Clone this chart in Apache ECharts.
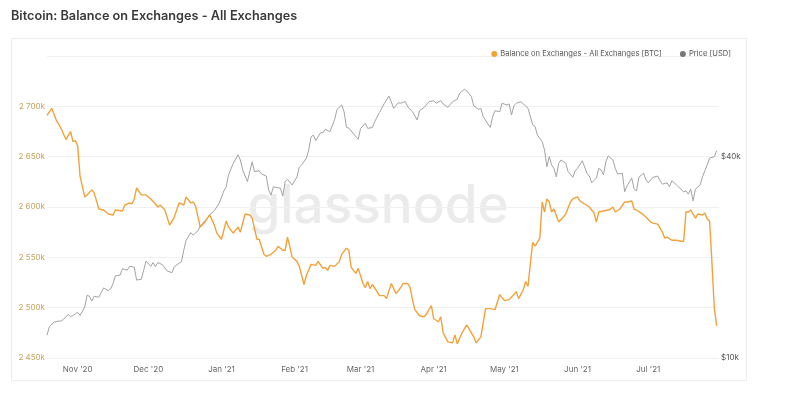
<!DOCTYPE html>
<html><head><meta charset="utf-8">
<script src="https://cdn.jsdelivr.net/npm/echarts@6/dist/echarts.min.js"></script>
<style>html,body{margin:0;padding:0;background:#fff}#c{width:795px;height:394px}</style>
</head><body><div id="c"></div>
<script>
const START = Date.UTC(2020, 9, 19);
const END = Date.UTC(2021, 6, 31);
const DAY = 86400000;
const monthNames = ['Jan','Feb','Mar','Apr','May','Jun','Jul','Aug','Sep','Oct','Nov','Dec'];

// days since 2020-10-19, balance in thousand BTC
const balanceDays = [0,2,4,6,8,9,10,11,12,13,14,16,17,19,20,22,24,26,28,29,32,33,35,36,37,38,40,42,44,46,47,48,50,52,54,56,58,59,61,62,63,65,67,68,69,71,72,74,76,77,79,81,82,84,86,87,89,90,92,93,95,96,97,98,100,101,102,104,106,107,109,110,112,114,115,117,118,119,120,122,124,125,127,128,129,131,132,134,135,136,137,138,140,141,143,144,146,148,150,151,153,154,155,156,158,160,161,163,164,166,167,168,170,172,173,174,176,178,179,181,182,184,186,188,190,192,194,196,198,199,200,202,203,204,205,206,207,209,210,211,212,213,214,215,217,219,220,222,223,225,226,228,230,232,233,234,236,238,239,240,241,243,245,246,248,249,250,252,254,256,257,259,261,262,263,265,267,269,270,271,272,273,275,276,278,279,280,281,282,283,284];
const balanceValues = [2691,2698,2686,2678,2667,2671,2675,2665,2666,2661,2631,2610,2612,2617,2614,2598,2597,2593,2592,2597,2596,2602,2604,2603,2608,2619,2612,2612,2608,2603,2600,2602,2597,2582,2590,2604,2602,2610,2604,2605,2601,2580,2585,2589,2592,2582,2574,2568,2586,2580,2574,2580,2575,2593,2592,2589,2568,2568,2553,2551,2553,2555,2557,2561,2557,2557,2570,2550,2546,2541,2523,2532,2543,2542,2546,2539,2540,2537,2542,2541,2546,2553,2559,2557,2540,2534,2539,2524,2520,2526,2519,2523,2516,2512,2512,2509,2524,2514,2520,2524,2524,2520,2508,2498,2492,2491,2494,2502,2489,2486,2491,2475,2466,2465,2473,2464,2475,2483,2479,2471,2465,2471,2499,2499,2498,2513,2507,2508,2513,2516,2509,2518,2526,2521,2544,2565,2561,2569,2605,2595,2608,2605,2595,2598,2585,2590,2593,2605,2608,2610,2606,2603,2600,2594,2585,2595,2596,2597,2598,2600,2595,2598,2605,2605,2606,2598,2597,2594,2590,2585,2584,2583,2575,2569,2570,2567,2567,2566,2566,2595,2595,2597,2589,2593,2592,2594,2588,2586,2545,2500,2482];

// days since 2020-10-19, price in thousand USD
const priceDays = [0,1,3,5,6,7,9,10,11,13,14,16,17,18,19,20,22,24,26,27,28,29,31,32,34,35,37,38,40,41,42,44,45,46,47,49,51,53,54,56,57,58,59,61,62,64,65,68,69,71,73,75,76,77,79,81,82,83,85,87,88,90,91,93,94,95,96,97,99,100,101,102,104,106,107,108,110,111,112,113,114,116,117,118,120,122,123,125,126,127,128,130,131,132,133,134,135,136,138,139,141,143,145,146,147,149,150,152,153,155,157,158,160,162,164,165,167,168,170,172,174,175,177,178,180,181,183,184,185,187,188,189,190,192,193,195,196,197,198,199,201,203,204,206,207,208,210,211,212,213,214,215,216,217,218,220,221,223,224,225,227,229,230,231,233,234,235,236,237,238,240,241,242,244,245,246,248,249,250,251,253,254,255,257,259,260,261,263,264,265,267,268,270,271,272,273,274,275,277,278,279,280,281,283,284];
const priceValues = [11.7,12.4,12.8,12.9,12.9,13.05,13.5,13.3,13.4,13.7,13.4,14.2,15.4,15.3,14.8,15.3,15.2,16.2,15.9,16.1,16.7,17.6,17.7,18.5,18.3,18.8,18.7,17.1,17.2,18.3,19.5,18.8,19.3,18.75,19.3,19.0,18.2,18.0,18.75,19.2,19.4,21.0,22.5,23.7,23.3,24.0,24.8,26.2,26.8,27.6,29.0,31.6,32.5,35.3,38.2,40.5,39.1,36.5,33.7,38.6,36.1,36.3,35.5,35.0,31.8,30.7,32.5,32.4,32.2,30.5,33.7,34.2,32.9,34.8,37.2,37.8,39.6,41.9,45.9,46.4,44.7,47.2,47.1,48.3,47.5,51.7,55.4,57.1,54.5,49.0,48.7,46.8,45.9,45.1,48.6,49.4,50.3,48.6,48.9,50.9,54.2,57.6,60.7,58.4,55.8,58.0,57.8,58.4,56.4,54.5,51.5,54.9,56.2,58.4,58.8,57.8,58.8,57.5,56.2,58.4,59.4,61.9,63.6,63.0,60.5,56.7,55.4,55.8,52.7,50.1,48.9,52.7,54.9,54.5,57.8,57.1,57.5,53.3,56.7,57.8,58.4,56.7,55.8,49.8,49.2,46.4,44.4,41.9,37.3,40.0,37.8,36.9,34.8,38.2,39.1,38.2,36.1,34.7,36.3,36.9,38.9,35.7,35.0,33.4,34.5,36.9,36.5,35.3,38.6,40.2,39.1,36.9,35.5,35.7,31.4,32.7,34.5,32.0,31.6,34.7,35.7,34.1,33.4,34.7,35.0,33.9,33.1,33.4,32.5,33.9,32.9,32.4,31.4,31.6,30.9,32.0,29.5,32.0,32.9,34.8,36.3,37.8,39.6,40.0,41.7];

const priceLabelValues = [10, 40];

const balanceData = balanceDays.map((d, i) => [START + d * DAY, balanceValues[i]]);
const priceData = priceDays.map((d, i) => [START + d * DAY, priceValues[i]]);

function fmtK(v) {
  return String(v).replace(/\B(?=(\d{3})+(?!\d))/g, ' ') + 'k';
}

const chart = echarts.init(document.getElementById('c'), null, {renderer: 'canvas'});
chart.setOption({
  animation: false,
  useUTC: true,
  textStyle: {fontFamily: 'Inter, "Noto Sans", sans-serif'},
  title: {
    text: 'Bitcoin: Balance on Exchanges - All Exchanges',
    left: 6, top: 5,
    textStyle: {fontSize: 12.7, fontWeight: 600, color: '#3a3a3a'}
  },
  legend: {
    right: 59, top: 45,
    icon: 'circle', itemWidth: 6, itemHeight: 6, itemGap: 18,
    textStyle: {fontSize: 7.6, color: '#555', padding: [0, 0, 0, -2]},
    data: [
      {name: 'Balance on Exchanges - All Exchanges [BTC]'},
      {name: 'Price [USD]', itemStyle: {color: '#777'}}
    ]
  },
  graphic: [
    {type: 'rect', left: 11, top: 38, z: -10, silent: true,
     shape: {width: 735, height: 342},
     style: {fill: '#fff', stroke: '#ececec', lineWidth: 1}},
    {type: 'text', x: 378, y: 207, z: -5, silent: true,
     style: {text: 'glassnode', fontSize: 53, fontFamily: 'Inter', fontWeight: 500,
             fill: '#ebebeb', align: 'center', verticalAlign: 'middle'}}
  ],
  grid: {left: 47, right: 76, top: 56, bottom: 36},
  xAxis: {
    type: 'time', min: START, max: END, splitNumber: 10,
    axisLine: {show: false}, axisTick: {show: false}, splitLine: {show: false},
    axisLabel: {
      fontSize: 8, color: '#666', margin: 8, hideOverlap: false,
      formatter: function (v) {
        const d = new Date(v);
        if (d.getUTCDate() !== 1) return '';
        return monthNames[d.getUTCMonth()] + " '" + String(d.getUTCFullYear()).slice(2);
      }
    }
  },
  yAxis: [
    {
      type: 'value', position: 'left', min: 2450, max: 2750, interval: 50,
      axisLine: {show: false}, axisTick: {show: false},
      splitLine: {lineStyle: {color: '#f0f0f0', width: 1}},
      axisLabel: {
        fontSize: 8, color: '#c9a15c', margin: 2,
        formatter: v => v >= 2750 ? '' : fmtK(v)
      }
    },
    {
      type: 'log', logBase: 2, position: 'right', min: 10, max: 80, interval: 1,
      axisLine: {show: false}, axisTick: {show: false}, splitLine: {show: false},
      axisLabel: {
        fontSize: 8, color: '#555', margin: 2,
        formatter: v => priceLabelValues.some(p => Math.abs(v - p) < 0.5) ? '$' + Math.round(v) + 'k' : ''
      }
    }
  ],
  series: [
    {
      name: 'Balance on Exchanges - All Exchanges [BTC]', type: 'line', yAxisIndex: 0,
      data: balanceData, showSymbol: false, symbol: 'none', z: 3,
      itemStyle: {color: '#f3a23a'},
      lineStyle: {color: '#f3a23a', width: 1.4}
    },
    {
      name: 'Price [USD]', type: 'line', yAxisIndex: 1,
      data: priceData, showSymbol: false, symbol: 'none', z: 2,
      itemStyle: {color: '#a3a3a3'},
      lineStyle: {color: '#a3a3a3', width: 1}
    }
  ]
});
</script>
</body></html>
